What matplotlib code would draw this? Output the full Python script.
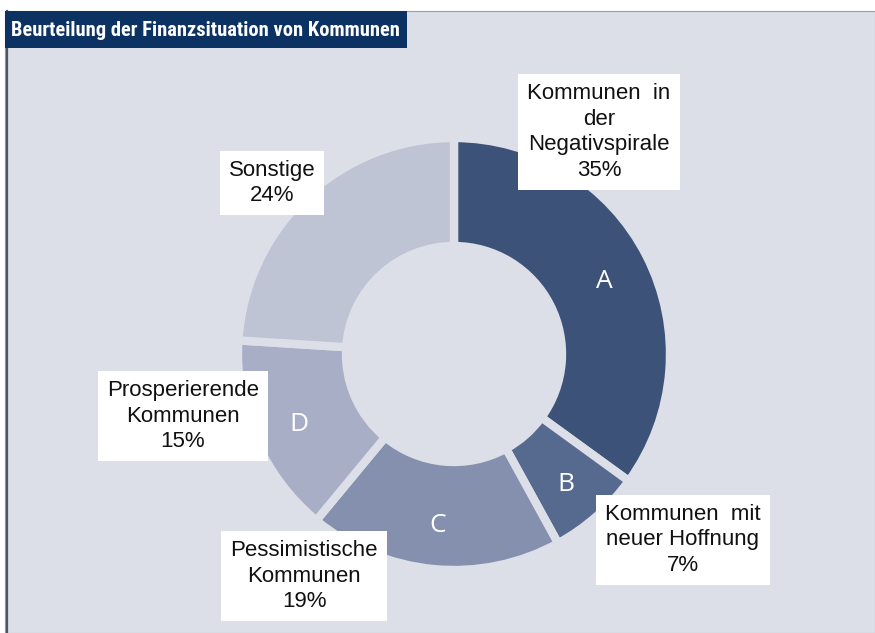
import numpy as np
import matplotlib
matplotlib.use("Agg")
import matplotlib.pyplot as plt
from matplotlib.patches import Rectangle

# data
letters = ["A", "B", "C", "D", ""]
shares = [35, 7, 19, 15, 24]
names = ["Kommunen  in\nder\nNegativspirale", "Kommunen  mit\nneuer Hoffnung",
         "Pessimistische\nKommunen", "Prosperierende\nKommunen", "Sonstige"]
colors = ["#3d5278", "#56698f", "#8590ae", "#a7aec6", "#bec4d4"]
title = "Beurteilung der Finanzsituation von Kommunen"

W, H = 875, 633
bg = "#dcdfe7"

fig = plt.figure(figsize=(W / 100, H / 100), dpi=100)
ax = fig.add_axes([0, 0, 1, 1])

def py(y):
    # pixel row -> data y
    return H - y

# panel + title box
ax.add_patch(Rectangle((5, 0), W - 5, py(11), facecolor=bg, edgecolor="#9a9ea8", lw=0.8, zorder=0))
ax.plot([7, 7], [0, py(11)], color="#50555e", lw=1.6, zorder=1)
ax.add_patch(Rectangle((5, py(48)), 402, 37, facecolor="#0b3262", edgecolor="none", zorder=2))
ax.text(11, py(30), title, color="white", fontsize=14.8, fontweight="bold",
        family=["Roboto Condensed", "Roboto"], va="center", ha="left", zorder=3)

# donut
cx, cy, r = 454, py(354), 216
wedges, _ = ax.pie(shares, colors=colors, startangle=90, counterclock=False,
                   center=(cx, cy), radius=r, frame=True,
                   wedgeprops=dict(width=108, edgecolor=bg, linewidth=6))

# letters inside the ring
cum = np.cumsum(shares) - np.array(shares) / 2
ang = np.deg2rad(90 - cum / sum(shares) * 360)
for a, lt in zip(ang, letters):
    if lt:
        ax.text(cx + 0.78 * r * np.cos(a), cy + 0.78 * r * np.sin(a) - 4, lt, color="white",
                fontsize=19, family="Open Sans", ha="center", va="center", zorder=5)

# label boxes
label_pos = [(599, 132), (683, 540), (304, 576), (183, 416), (272, 183)]
for (x, y), nm, s in zip(label_pos, names, shares):
    ax.text(x, py(y), f"{nm}\n{s}%", fontsize=16, family="Liberation Sans", color="#111111",
            ha="center", va="center", multialignment="center", linespacing=1.3, zorder=6,
            bbox=dict(boxstyle="square,pad=0.4", facecolor="white", edgecolor="none"))

ax.set_xlim(0, W)
ax.set_ylim(0, H)
ax.set_aspect("equal")
ax.axis("off")
fig.patch.set_facecolor("white")
fig.savefig("out.png", dpi=100, facecolor="white")
